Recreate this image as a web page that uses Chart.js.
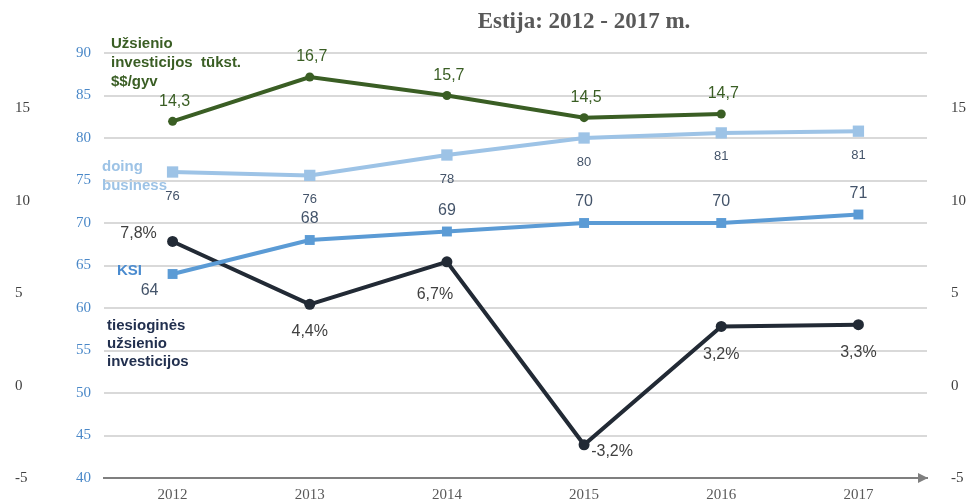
<!DOCTYPE html>
<html>
<head>
<meta charset="utf-8">
<script src="https://cdn.jsdelivr.net/npm/chart.js@4.4.0/dist/chart.umd.min.js"></script>
<style>
  body { margin: 0; background: #fff; }
  #wrap { width: 971px; height: 504px; }
</style>
</head>
<body>
<div id="wrap"><canvas id="myChart" width="971" height="504"></canvas></div>
<script>
// years on the x axis
var years = ['2012', '2013', '2014', '2015', '2016', '2017'];

// series
var foreignInvPerCapita = [14.3, 16.7, 15.7, 14.5, 14.7, null];   // tūkst. $$/gyv (right scale)
var doingBusiness = [76, 75.6, 78, 80, 80.6, 80.8];               // left scale
var ksi = [64, 68, 69, 70, 70, 71];                                // left scale
var fdiPercent = [7.8, 4.4, 6.7, -3.2, 3.2, 3.3];                  // right scale, %

// value labels as shown on the chart
var foreignInvLabels = ['14,3', '16,7', '15,7', '14,5', '14,7', ''];
var doingBusinessLabels = ['76', '76', '78', '80', '81', '81'];
var ksiLabels = ['64', '68', '69', '70', '70', '71'];
var fdiLabels = ['7,8%', '4,4%', '6,7%', '-3,2%', '3,2%', '3,3%'];

// tick values of the outer scales
var outerTicks = [-5, 0, 5, 10, 15];

var serif = '"Liberation Serif", "Times New Roman", serif';
var sans = '"Liberation Sans", Arial, sans-serif';

// draws the value labels next to each point
var valueLabels = {
  id: 'valueLabels',
  afterDatasetsDraw: function (chart) {
    var ctx = chart.ctx;
    ctx.save();
    ctx.textAlign = 'center';
    ctx.textBaseline = 'middle';
    chart.data.datasets.forEach(function (ds, di) {
      var meta = chart.getDatasetMeta(di);
      meta.data.forEach(function (pt, i) {
        var txt = ds.valueText[i];
        if (!txt) return;
        var off = (ds.labelShift && ds.labelShift[i]) || ds.labelOffset;
        ctx.font = ds.labelFont;
        ctx.fillStyle = ds.labelColor;
        ctx.fillText(txt, pt.x + off[0], pt.y + off[1]);
      });
    });
    ctx.restore();
  }
};

// series names written inside the plot, title and axis arrow
var extras = {
  id: 'extras',
  afterDraw: function (chart) {
    var ctx = chart.ctx;
    var area = chart.chartArea;
    ctx.save();
    ctx.textBaseline = 'middle';
    ctx.textAlign = 'left';

    ctx.font = 'bold 15px ' + sans;
    ctx.fillStyle = '#3a5e24';
    ctx.fillText('Užsienio', 111, 44);
    ctx.fillText('investicijos  tūkst.', 111, 63);
    ctx.fillText('$$/gyv', 111, 82);

    ctx.fillStyle = '#9dc3e6';
    ctx.fillText('doing', 102, 167);
    ctx.fillText('business', 102, 186);

    ctx.fillStyle = '#4a8bcf';
    ctx.fillText('KSI', 117, 271);

    ctx.fillStyle = '#22304f';
    ctx.fillText('tiesioginės', 107, 326);
    ctx.fillText('užsienio', 107, 344);
    ctx.fillText('investicijos', 107, 362);

    // title
    ctx.font = 'bold 23px ' + serif;
    ctx.fillStyle = '#595959';
    ctx.textAlign = 'center';
    ctx.fillText('Estija: 2012 - 2017 m.', 584, 22);

    // arrow at the end of the x axis
    ctx.fillStyle = '#7f7f7f';
    ctx.beginPath();
    ctx.moveTo(area.right + 1, area.bottom);
    ctx.lineTo(area.right - 9, area.bottom - 5);
    ctx.lineTo(area.right - 9, area.bottom + 5);
    ctx.closePath();
    ctx.fill();
    ctx.restore();
  }
};

function fixOuterTicks(axis) {
  axis.ticks = outerTicks.map(function (v) { return { value: v }; });
}

var ctx = document.getElementById('myChart').getContext('2d');
var chart = new Chart(ctx, {
  type: 'line',
  data: {
    labels: years,
    datasets: [
      {
        label: 'Užsienio investicijos tūkst. $$/gyv',
        data: foreignInvPerCapita,
        yAxisID: 'yR',
        borderColor: '#3a5e24',
        backgroundColor: '#3a5e24',
        borderWidth: 4,
        pointRadius: 4.5,
        pointBorderWidth: 0,
        pointStyle: 'circle',
        valueText: foreignInvLabels,
        labelFont: '16px ' + sans,
        labelColor: '#3a5e24',
        labelOffset: [2, -20]
      },
      {
        label: 'doing business',
        data: doingBusiness,
        yAxisID: 'y',
        borderColor: '#9dc3e6',
        backgroundColor: '#9dc3e6',
        borderWidth: 4,
        pointRadius: 8,
        pointBorderWidth: 0,
        pointStyle: 'rect',
        valueText: doingBusinessLabels,
        labelFont: '13px ' + sans,
        labelColor: '#44546a',
        labelOffset: [0, 24]
      },
      {
        label: 'KSI',
        data: ksi,
        yAxisID: 'y',
        borderColor: '#5b9bd5',
        backgroundColor: '#5b9bd5',
        borderWidth: 4,
        pointRadius: 7,
        pointBorderWidth: 0,
        pointStyle: 'rect',
        valueText: ksiLabels,
        labelFont: '16px ' + sans,
        labelColor: '#44546a',
        labelOffset: [0, -21],
        labelShift: [[-23, 17]]
      },
      {
        label: 'tiesioginės užsienio investicijos',
        data: fdiPercent,
        yAxisID: 'yR',
        borderColor: '#222a35',
        backgroundColor: '#222a35',
        borderWidth: 4,
        pointRadius: 5.5,
        pointBorderWidth: 0,
        pointStyle: 'circle',
        valueText: fdiLabels,
        labelFont: '16px ' + sans,
        labelColor: '#404040',
        labelOffset: [0, 28],
        labelShift: [[-34, -8], [0, 27], [-12, 33], [28, 7], [0, 28], [0, 28]]
      }
    ]
  },
  options: {
    responsive: false,
    animation: false,
    spanGaps: false,
    layout: { padding: { left: 15, right: 0, top: 53, bottom: 0 } },
    plugins: {
      legend: { display: false },
      tooltip: { enabled: false },
      title: { display: false }
    },
    scales: {
      x: {
        offset: true,
        grid: { display: false },
        border: { display: true, color: '#7f7f7f', width: 2 },
        ticks: { font: { family: serif, size: 15 }, color: '#595959', padding: 0 },
        afterFit: function (axis) { axis.height = 26; }
      },
      yL: {
        position: 'left',
        weight: 1,
        min: -5,
        max: 18,
        grid: { display: false },
        border: { display: false },
        ticks: { font: { family: serif, size: 15 }, color: '#404040', crossAlign: 'far', padding: 0 },
        afterBuildTicks: fixOuterTicks,
        afterFit: function (axis) { axis.width = 35; }
      },
      y: {
        position: 'left',
        weight: 0,
        min: 40,
        max: 90,
        grid: { color: '#d9d9d9', lineWidth: 2, drawTicks: false },
        border: { display: false },
        ticks: { stepSize: 5, font: { family: serif, size: 15 }, color: '#4a88c8', padding: 13 },
        afterFit: function (axis) { axis.width = 54; }
      },
      yR: {
        position: 'right',
        min: -5,
        max: 18,
        grid: { display: false },
        border: { display: false },
        ticks: { font: { family: serif, size: 15 }, color: '#404040', padding: 16 },
        afterBuildTicks: fixOuterTicks,
        afterFit: function (axis) { axis.width = 44; }
      }
    }
  },
  plugins: [valueLabels, extras]
});
</script>
</body>
</html>
